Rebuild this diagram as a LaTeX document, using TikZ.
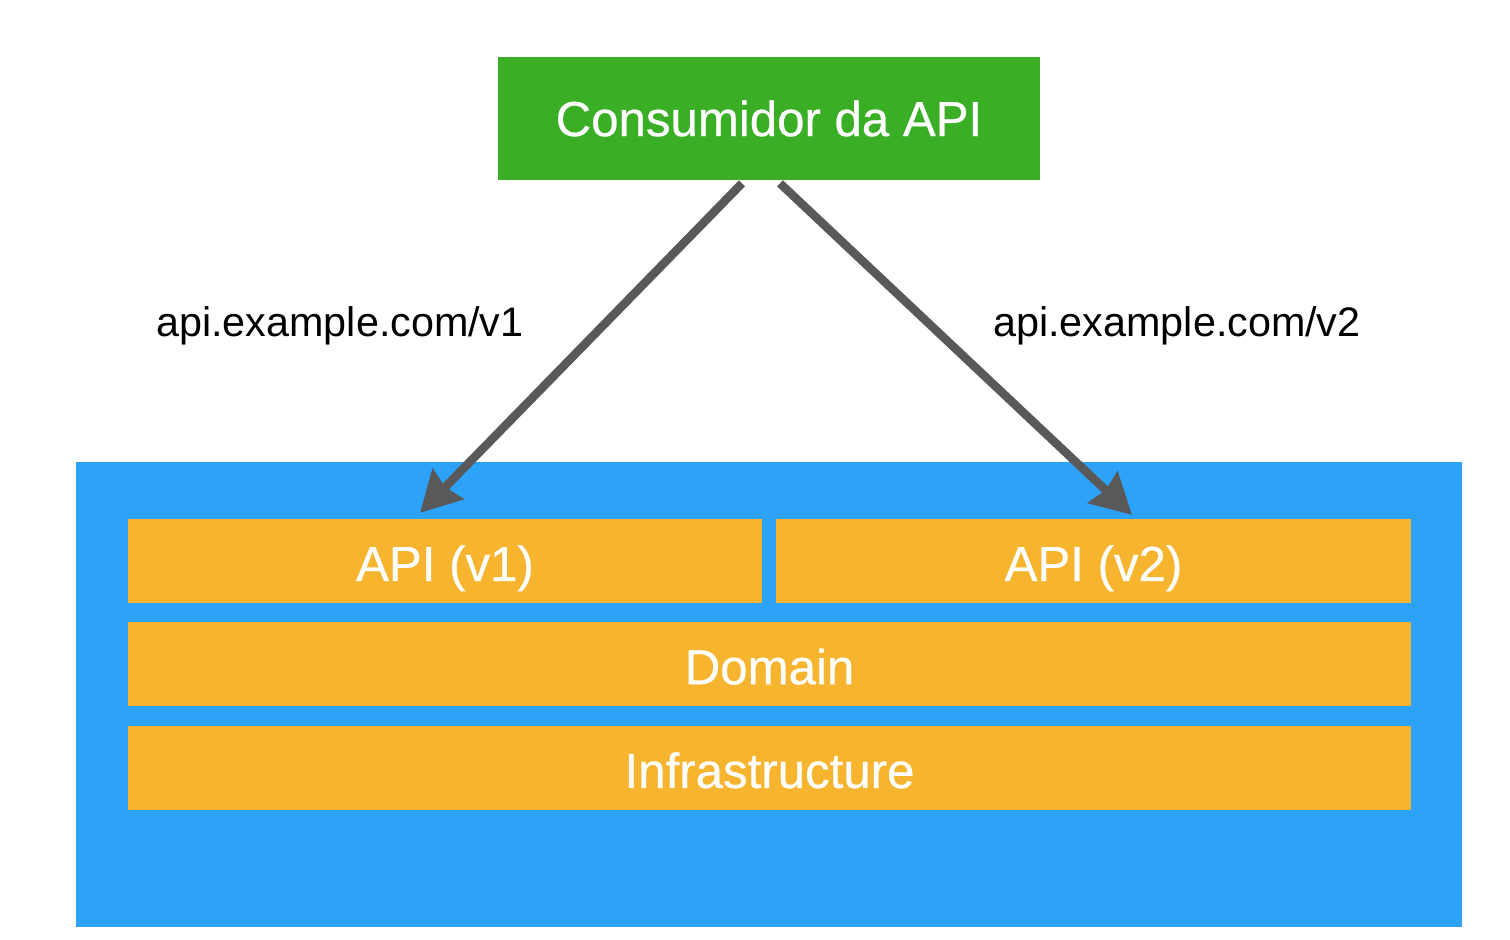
\documentclass[tikz,border=0pt]{standalone}
\usepackage{fontspec}
\setmainfont{Liberation Sans}
\newfontfamily\boxfont{Liberation Sans}[FakeBold=0.5]
\usepackage{xcolor}
\usetikzlibrary{shapes,arrows.meta,positioning}

\definecolor{consgreen}{HTML}{3AAE25}
\definecolor{appblue}{HTML}{2CA3F9}
\definecolor{layerorange}{HTML}{F7B52F}
\definecolor{arrowgray}{HTML}{595959}

\begin{document}
\begin{tikzpicture}
      \tikzstyle{layer} = [rectangle, fill=layerorange, text=white, font=\boxfont\fontsize{28}{32}\selectfont, text height=0.8cm, text depth=0cm, minimum height=1.67cm, inner sep=0pt]
      \tikzstyle{link} = [draw=arrowgray, line width=0.17cm, -{Stealth[length=0.8cm, width=0.85cm, inset=0.08cm]}]

      \fill[white] (0,0) rectangle (30.2,18.8);

      \node[rectangle, fill=consgreen, text=white, font=\boxfont\fontsize{28}{32}\selectfont, minimum width=10.84cm, minimum height=2.46cm] (cons) at (15.38,16.43) {Consumidor da API};

      \node[rectangle, fill=appblue, minimum width=27.72cm, minimum height=9.3cm] (app) at (15.38,4.91) {};

      \node[layer, minimum width=12.68cm] (api1) at (8.9,7.58) {API (v1)};
      \node[layer, minimum width=12.7cm] (api2) at (21.87,7.58) {API (v2)};
      \node[layer, minimum width=25.66cm, below=0.38cm of api1.south west, anchor=north west] (dom) {Domain};
      \node[layer, minimum width=25.66cm, below=0.39cm of dom] (infra) {Infrastructure};

      \draw[link] ([xshift=-0.54cm, yshift=-0.06cm]cons.south) -- ([xshift=-0.5cm, yshift=0.12cm]api1.north);
      \draw[link] ([xshift=0.22cm, yshift=-0.06cm]cons.south) -- ([xshift=0.77cm, yshift=0.08cm]api2.north);

      \node[font=\fontsize{23.5}{28}\selectfont] (url1) at (6.8,12.29) {api.example.com/v1};
      \node[font=\fontsize{23.5}{28}\selectfont] (url2) at (23.54,12.29) {api.example.com/v2};
    \end{tikzpicture}
\end{document}
